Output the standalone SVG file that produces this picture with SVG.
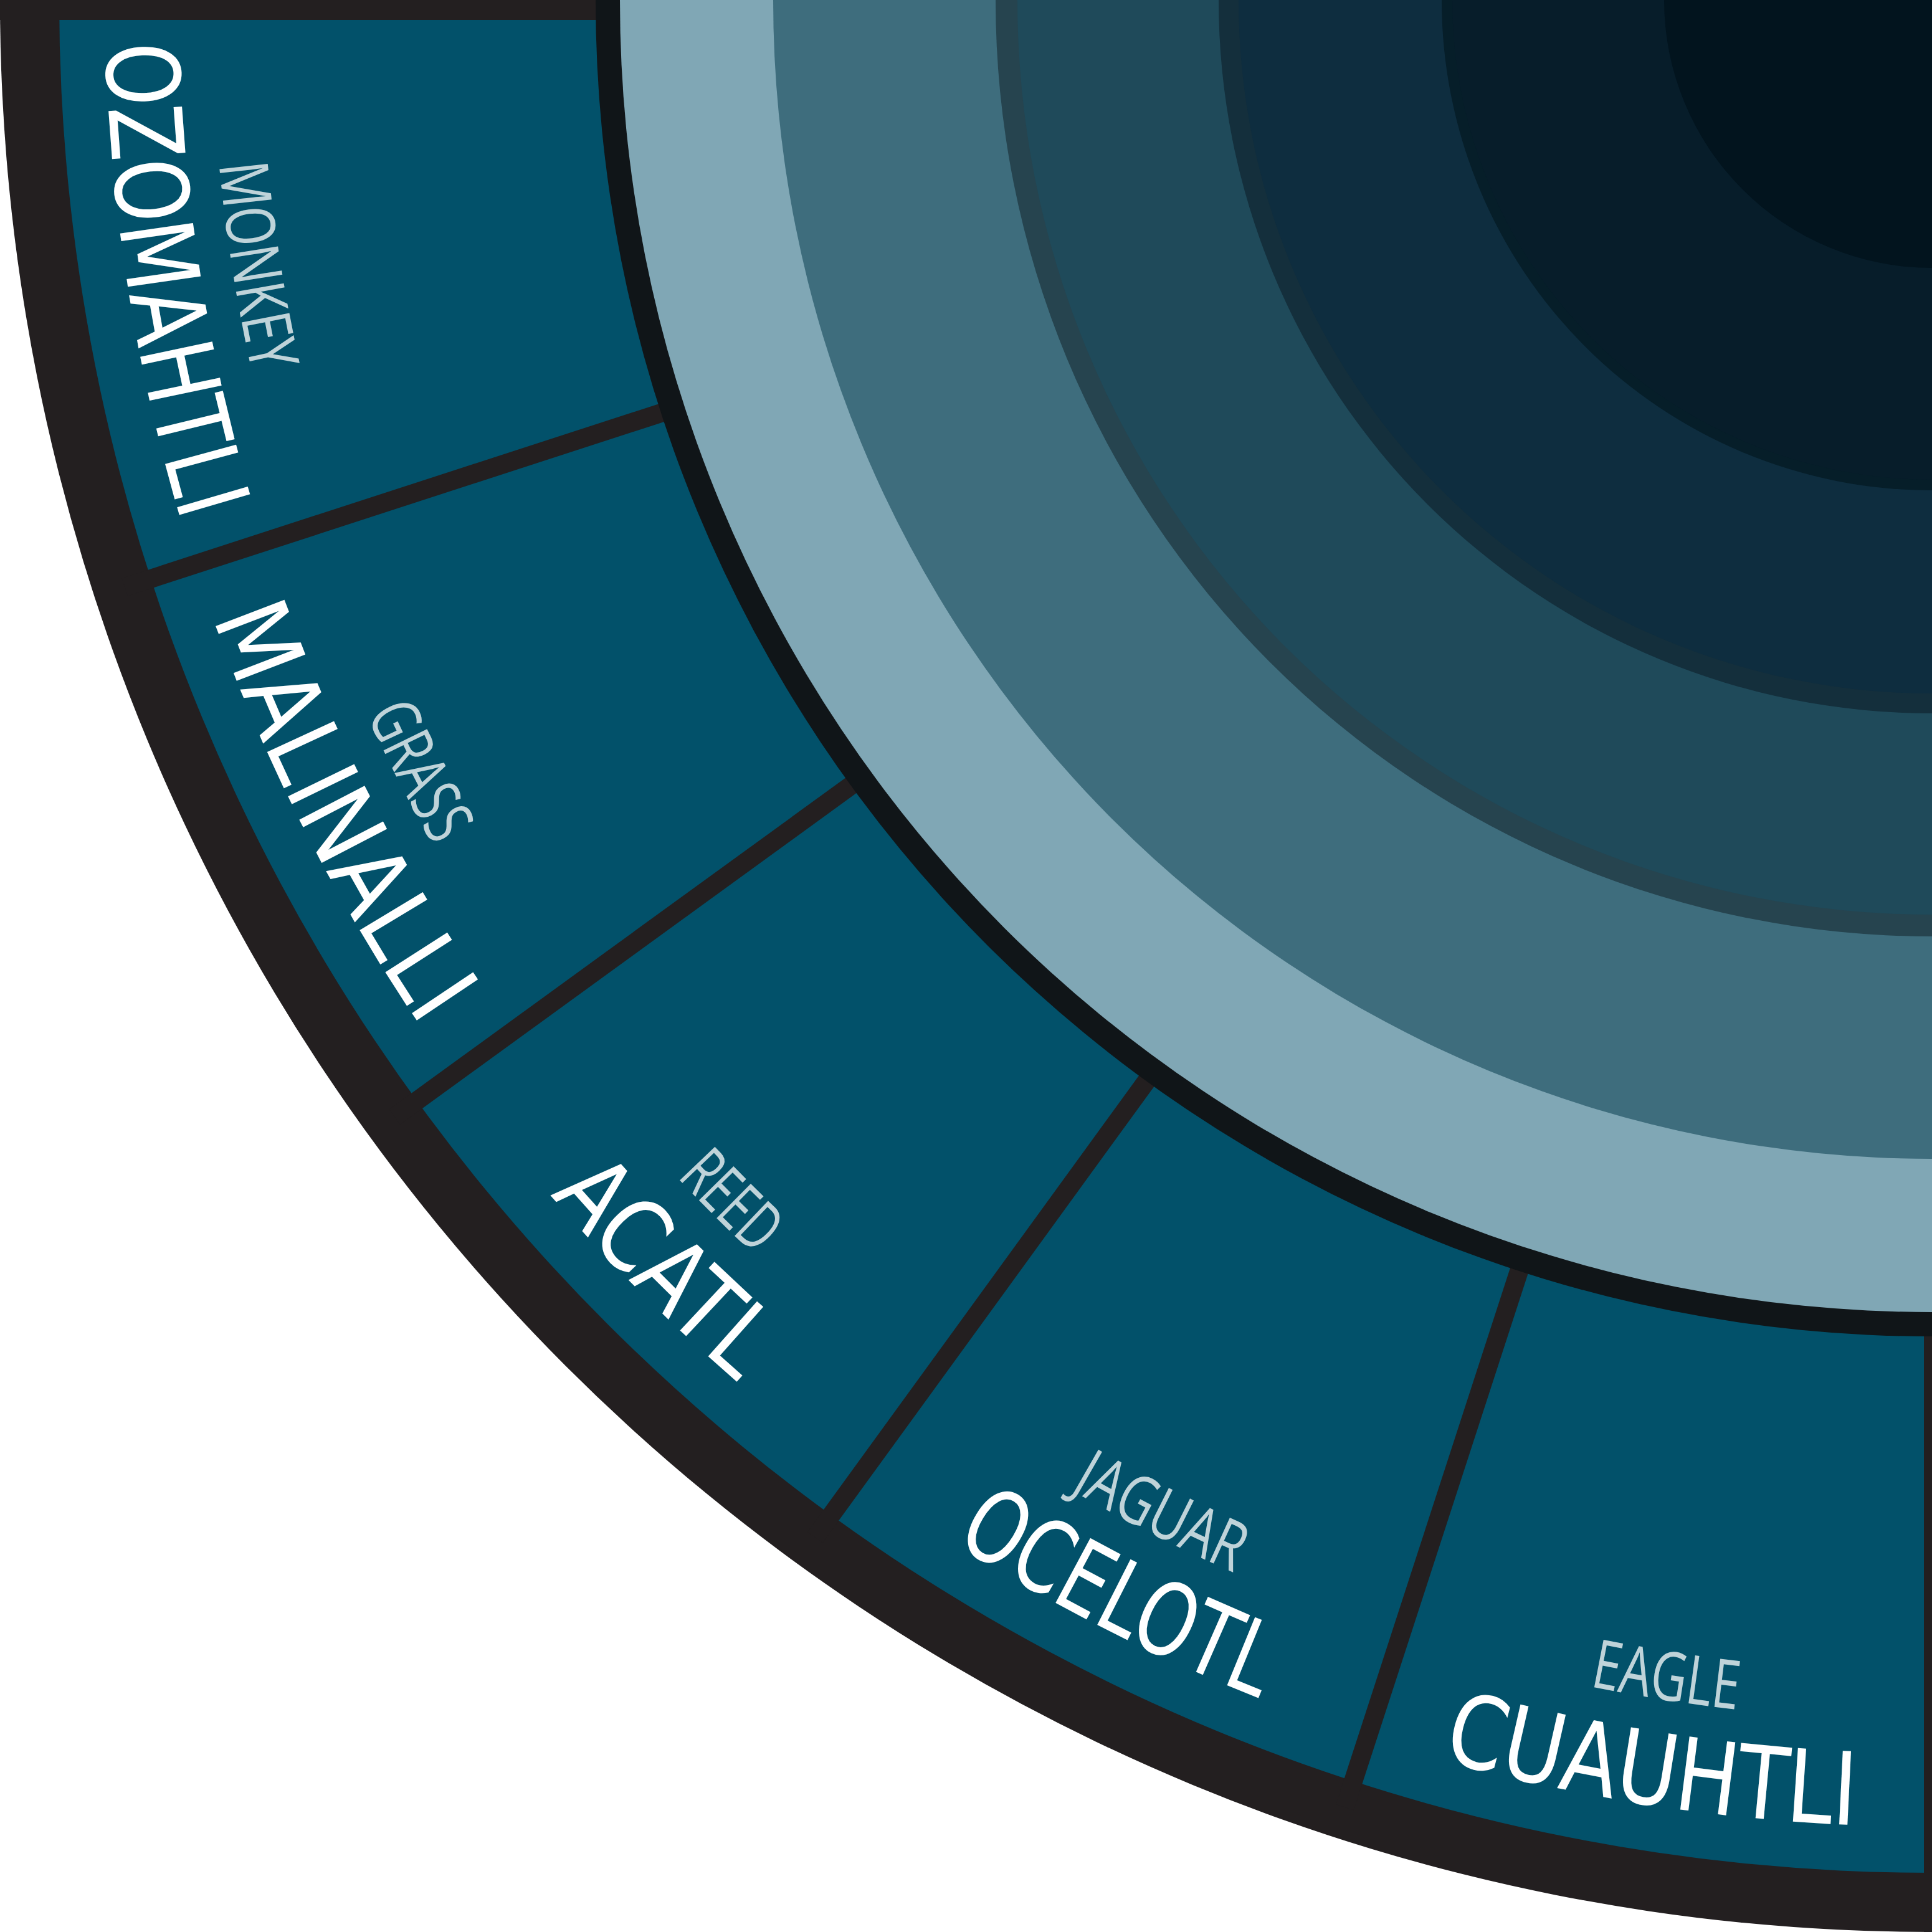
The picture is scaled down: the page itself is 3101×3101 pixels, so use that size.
<svg xmlns="http://www.w3.org/2000/svg" xmlns:xlink="http://www.w3.org/1999/xlink" width="3101" height="3101" viewBox="0 0 3101 3101">
<style>
.nah{font-family:"DejaVu Sans","Liberation Sans",sans-serif;font-size:162px;fill:#ffffff;}
.eng{font-family:"Open Sans","DejaVu Sans",sans-serif;font-weight:400;font-size:109px;fill:#bfd3d9;}
.div{stroke:#231f20;stroke-width:30;stroke-linecap:butt;}
</style>
<defs>
<path id="arcN" d="M213.5,-509.1 A2932,2932 0 0 0 3610.1,2887.5"/>
<path id="arcE" d="M381.0,-479.6 A2762,2762 0 0 0 3580.6,2720.0"/>
</defs>
<rect width="3101" height="3101" fill="#ffffff"/>
<g id="wheel-outer">
<circle cx="3101" cy="0" r="3101" fill="#231f20"/>
<circle cx="3101" cy="0" r="3006" fill="#02516a"/>
<rect x="0" y="0" width="1000" height="32" fill="#231f20"/>
<rect x="3088" y="2100" width="13" height="1001" fill="#231f20"/>
</g>
<g id="connectors">
<line class="div" x1="1103.8" y1="648.9" x2="200.3" y2="942.5"/>
<line class="div" x1="1402.1" y1="1234.4" x2="633.5" y2="1792.8"/>
<line class="div" x1="1866.6" y1="1698.9" x2="1308.2" y2="2467.5"/>
<line class="div" x1="2452.1" y1="1997.2" x2="2158.5" y2="2900.7"/>
</g>
<g id="center-rings">
<circle cx="3101" cy="0" r="2145" fill="#101518"/>
<circle cx="3101" cy="0" r="2106" fill="#80a7b5"/>
<circle cx="3101" cy="0" r="1860" fill="#3e6d7d"/>
<circle cx="3101" cy="0" r="1503" fill="#26444f"/>
<circle cx="3101" cy="0" r="1468" fill="#1f4a5a"/>
<circle cx="3101" cy="0" r="1145" fill="#142f3c"/>
<circle cx="3101" cy="0" r="1113" fill="#0e2d3f"/>
<circle cx="3101" cy="0" r="787" fill="#061e29"/>
<circle cx="3101" cy="0" r="770" fill="#071d2a"/>
<circle cx="3101" cy="0" r="430" fill="#02141e"/>
</g>
<g id="monkey">
<text class="eng" text-anchor="middle"><textPath xlink:href="#arcE" href="#arcE" startOffset="915.9" textLength="340" lengthAdjust="spacingAndGlyphs">MONKEY</textPath></text>
<text class="nah" text-anchor="middle"><textPath xlink:href="#arcN" href="#arcN" startOffset="972.3" textLength="780" lengthAdjust="spacingAndGlyphs">OZOMAHTLI</textPath></text>
</g>
<g id="grass">
<text class="eng" text-anchor="middle"><textPath xlink:href="#arcE" href="#arcE" startOffset="1783.6" textLength="238" lengthAdjust="spacingAndGlyphs">GRASS</textPath></text>
<text class="nah" text-anchor="middle"><textPath xlink:href="#arcN" href="#arcN" startOffset="1893.4" textLength="740" lengthAdjust="spacingAndGlyphs">MALINALLI</textPath></text>
</g>
<g id="reed">
<text class="eng" text-anchor="middle"><textPath xlink:href="#arcE" href="#arcE" startOffset="2651.3" textLength="178" lengthAdjust="spacingAndGlyphs">REED</textPath></text>
<text class="nah" text-anchor="middle"><textPath xlink:href="#arcN" href="#arcN" startOffset="2814.5" textLength="425" lengthAdjust="spacingAndGlyphs">ACATL</textPath></text>
</g>
<g id="jaguar">
<text class="eng" text-anchor="middle"><textPath xlink:href="#arcE" href="#arcE" startOffset="3519.0" textLength="295" lengthAdjust="spacingAndGlyphs">JAGUAR</textPath></text>
<text class="nah" text-anchor="middle"><textPath xlink:href="#arcN" href="#arcN" startOffset="3735.6" textLength="550" lengthAdjust="spacingAndGlyphs">OCELOTL</textPath></text>
</g>
<g id="eagle">
<text class="eng" text-anchor="middle"><textPath xlink:href="#arcE" href="#arcE" startOffset="4386.7" textLength="240" lengthAdjust="spacingAndGlyphs">EAGLE</textPath></text>
<text class="nah" text-anchor="middle"><textPath xlink:href="#arcN" href="#arcN" startOffset="4656.8" textLength="675" lengthAdjust="spacingAndGlyphs">CUAUHTLI</textPath></text>
</g>
</svg>
